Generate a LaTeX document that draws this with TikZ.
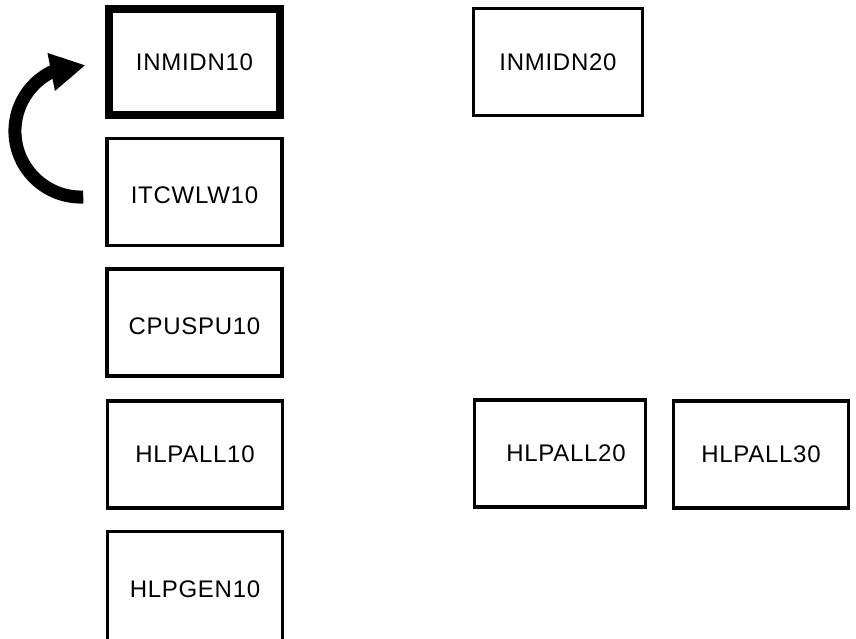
\documentclass[tikz,border=0pt]{standalone}
\usepackage{fontspec}
\setmainfont{Liberation Sans}[LetterSpace=3]
\usetikzlibrary{arrows.meta,bending}
\newcommand{\lowtext}[1]{\raisebox{-3.5pt}[\height][0pt]{#1}}
\tikzset{
  box/.style={draw=black, line width=3.5pt, rectangle, minimum width=175pt,
    minimum height=107pt, inner sep=0pt, font=\fontsize{24}{27}\selectfont, text=black},
  thickbox/.style={box, line width=8pt, minimum width=171pt, minimum height=106pt},
  bigarrow/.style={line width=13pt, line cap=butt, -{Triangle[length=35pt,width=36pt,flex]}}
}
\begin{document}
\begin{tikzpicture}[x=1pt,y=1pt]
\useasboundingbox (0,0) rectangle (856,638);
\node[thickbox] (inm10) at (194.5,576) {INMIDN10};
\node[box] (itc10) at (194.5,446) {\lowtext{ITCWLW10}};
\node[box] (cpu10) at (194.5,315.5) {\lowtext{CPUSPU10}};
\node[box] (hlp10) at (195,183.5) {HLPALL10};
\node[box, minimum height=115pt] (gen10) at (195,49) {HLPGEN10};
\node[box, minimum width=169pt] (inm20) at (558,576) {INMIDN20};
\node[box, minimum width=171pt] (hlp20) at (560,184.5) {\hspace*{12pt}HLPALL20};
\node[box] (hlp30) at (761,183.5) {HLPALL30};
\coordinate (tail) at ([xshift=-22pt,yshift=-5pt]itc10.west);
\draw[bigarrow] (tail) arc[start angle=272, end angle=86, radius=66pt];
\end{tikzpicture}
\end{document}
